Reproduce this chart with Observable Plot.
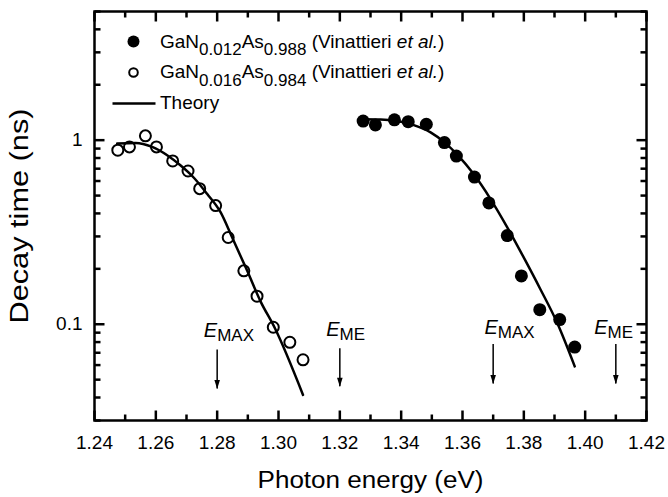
<!DOCTYPE html>
<html>
<head>
<meta charset="utf-8">
<script src="https://cdn.jsdelivr.net/npm/d3@7"></script>
<script src="https://cdn.jsdelivr.net/npm/@observablehq/plot@0.6"></script>
<style>
  html, body { margin: 0; padding: 0; background: #fff; overflow: hidden; }
  #chart svg { display: block; }
</style>
</head>
<body>
<div id="chart"></div>
<script>
// ---------- data ----------
// GaN0.012As0.988 (filled circles)
const filledEnergy = [1.3276, 1.3316, 1.3378, 1.3423, 1.3482, 1.3541, 1.3580, 1.3639, 1.3686, 1.3746, 1.3792, 1.3852, 1.3917, 1.3966];
const filledTau    = [1.27, 1.21, 1.29, 1.26, 1.22, 0.97, 0.82, 0.63, 0.456, 0.303, 0.183, 0.120, 0.106, 0.0752];
// GaN0.016As0.984 (open circles)
const openEnergy = [1.2476, 1.2514, 1.2566, 1.2602, 1.2655, 1.2705, 1.2743, 1.2795, 1.2836, 1.2887, 1.2930, 1.2983, 1.3037, 1.3080];
const openTau    = [0.882, 0.919, 1.056, 0.919, 0.771, 0.680, 0.545, 0.441, 0.296, 0.195, 0.142, 0.0963, 0.0798, 0.0641];
// Theory curves
const theoryLowEnergy  = [1.2474, 1.2534, 1.2588, 1.2637, 1.2680, 1.2724, 1.2767, 1.2811, 1.2849, 1.2898, 1.2941, 1.2988, 1.3080];
const theoryLowTau     = [0.959, 0.966, 0.919, 0.828, 0.730, 0.625, 0.511, 0.406, 0.296, 0.195, 0.1336, 0.0954, 0.0413];
const theoryHighEnergy = [1.3273, 1.3333, 1.3387, 1.3441, 1.3496, 1.3539, 1.3583, 1.3637, 1.3691, 1.3746, 1.3800, 1.3854, 1.3909, 1.3966];
const theoryHighTau    = [1.30, 1.297, 1.270, 1.208, 1.102, 0.979, 0.835, 0.652, 0.480, 0.336, 0.230, 0.155, 0.1016, 0.059];
// Arrow annotations
const arrowEnergy    = [1.28, 1.32, 1.37, 1.41];
const arrowTop       = [0.073, 0.074, 0.078, 0.078];
const arrowBottom    = [0.0447, 0.046, 0.0476, 0.0476];
const arrowMain      = ["E", "E", "E", "E"];
const arrowSub       = ["MAX", "ME", "MAX", "ME"];
const arrowLabelE    = [1.2758, 1.3157, 1.3673, 1.4031];
const arrowLabelTau  = [0.0845, 0.0860, 0.0885, 0.0885];
// Axes
const xDomain = [1.24, 1.42];
const yDomain = [0.03, 5];
const xMajor = [1.24, 1.26, 1.28, 1.30, 1.32, 1.34, 1.36, 1.38, 1.40, 1.42];
const xTickLabels = ["1.24", "1.26", "1.28", "1.30", "1.32", "1.34", "1.36", "1.38", "1.40", "1.42"];
const xMinor = [1.25, 1.27, 1.29, 1.31, 1.33, 1.35, 1.37, 1.39, 1.41];
const yMajor = [0.1, 1];
const yTickLabels = ["0.1", "1"];
const yMinor = [0.03, 0.04, 0.05, 0.06, 0.07, 0.08, 0.09, 0.2, 0.3, 0.4, 0.5, 0.6, 0.7, 0.8, 0.9, 2, 3, 4, 5];
const xTitle = "Photon energy (eV)";
const yTitle = "Decay time (ns)";
// Legend
const legendFilled = [["GaN", ""], ["0.012", "sub"], ["As", ""], ["0.988", "sub"], [" (Vinattieri ", ""], ["et al.", "it"], [")", ""]];
const legendOpen   = [["GaN", ""], ["0.016", "sub"], ["As", ""], ["0.984", "sub"], [" (Vinattieri ", ""], ["et al.", "it"], [")", ""]];
const legendTheory = "Theory";

// ---------- build ----------
const FONT = "'Liberation Sans', Arial, Helvetica, sans-serif";
const W = 668, H = 497, mL = 94, mT = 11, mR = 22, mB = 77;

const filled = filledEnergy.map((e, i) => ({e, tau: filledTau[i]}));
const open = openEnergy.map((e, i) => ({e, tau: openTau[i]}));
const theoryLow = theoryLowEnergy.map((e, i) => ({e, tau: theoryLowTau[i]}));
const theoryHigh = theoryHighEnergy.map((e, i) => ({e, tau: theoryHighTau[i]}));
const arrows = arrowEnergy.map((e, i) => ({e, top: arrowTop[i], bottom: arrowBottom[i]}));

// the same scales as the plot, used to give the inward ticks a fixed pixel length
const xS = Plot.scale({x: {domain: xDomain, range: [mL, W - mR]}});
const yS = Plot.scale({y: {type: "log", domain: yDomain, range: [H - mB, mT]}});
const xTicks = (vals, len) => [
  ...vals.map(v => ({x: v, y1: yDomain[0], y2: yS.invert(H - mB - len)})),
  ...vals.map(v => ({x: v, y1: yDomain[1], y2: yS.invert(mT + len)}))
];
const yTicks = (vals, len) => [
  ...vals.map(v => ({y: v, x1: xDomain[0], x2: xS.invert(mL + len)})),
  ...vals.map(v => ({y: v, x1: xDomain[1], x2: xS.invert(W - mR - len)}))
];

const arrowHead = {
  draw(context) {
    context.moveTo(0, 0.5);
    context.lineTo(-2.8, -8.5);
    context.lineTo(2.8, -8.5);
    context.closePath();
  }
};
const legendLine = {
  draw(context) {
    context.moveTo(-21.5, 0);
    context.lineTo(21.5, 0);
  }
};
const tickStyle = {stroke: "#000", strokeWidth: 2.5};

const plot = Plot.plot({
  width: W, height: H,
  marginLeft: mL, marginTop: mT, marginRight: mR, marginBottom: mB,
  style: {fontFamily: FONT, color: "#000", background: "#fff"},
  x: {domain: xDomain},
  y: {type: "log", domain: yDomain},
  marks: [
    Plot.frame({fill: "none", stroke: "#000", strokeWidth: 2.5}),
    // tick labels
    Plot.axisX(xMajor, {tickSize: 0, tickPadding: 15, fontSize: 19, label: null,
      tickFormat: d => xTickLabels[xMajor.indexOf(d)]}),
    Plot.axisY(yMajor, {tickSize: 0, tickPadding: 12, fontSize: 19, label: null,
      tickFormat: d => yTickLabels[yMajor.indexOf(d)]}),
    // inward ticks on all four sides
    Plot.link(xTicks(xMajor, 10), {x1: "x", x2: "x", y1: "y1", y2: "y2", ...tickStyle}),
    Plot.link(xTicks(xMinor, 6), {x1: "x", x2: "x", y1: "y1", y2: "y2", ...tickStyle}),
    Plot.link(yTicks(yMajor, 10), {y1: "y", y2: "y", x1: "x1", x2: "x2", ...tickStyle}),
    Plot.link(yTicks(yMinor, 6), {y1: "y", y2: "y", x1: "x1", x2: "x2", ...tickStyle}),
    // theory lines
    Plot.line(theoryLow, {x: "e", y: "tau", stroke: "#000", strokeWidth: 2.5, curve: "monotone-x"}),
    Plot.line(theoryHigh, {x: "e", y: "tau", stroke: "#000", strokeWidth: 2.5, curve: "monotone-x"}),
    // data points
    Plot.dot(open, {x: "e", y: "tau", r: 5.5, stroke: "#000", strokeWidth: 2, fill: "none"}),
    Plot.dot(filled, {x: "e", y: "tau", r: 6.5, fill: "#000", stroke: "none"}),
    // arrows
    Plot.link(arrows, {x1: "e", x2: "e", y1: "top", y2: "bottom", stroke: "#000", strokeWidth: 1.5}),
    Plot.dot(arrows, {x: "e", y: "bottom", symbol: arrowHead, r: 4, fill: "#000", stroke: "none"}),
    // legend symbols
    Plot.dot([0], {frameAnchor: "top-left", dx: 39, dy: 30, r: 6, fill: "#000", stroke: "none"}),
    Plot.dot([0], {frameAnchor: "top-left", dx: 39, dy: 61, r: 4.3, fill: "none", stroke: "#000", strokeWidth: 2}),
    Plot.dot([0], {frameAnchor: "top-left", dx: 39.5, dy: 92, symbol: legendLine, r: 10, fill: "none", stroke: "#000", strokeWidth: 2.5}),
    // axis titles
    Plot.text([xTitle], {text: d => d, frameAnchor: "bottom", dy: 60, fontSize: 23, lineAnchor: "middle", fill: "#000"}),
    Plot.text([yTitle], {text: d => d, frameAnchor: "left", dx: -75, dy: 107.5, rotate: -90, textAnchor: "start", fontSize: 25, lineAnchor: "middle", fill: "#000"})
  ]
});

const svg = d3.select(plot);
// stretch the titles to the widths in the figure
svg.selectAll("text").filter(function() { return this.textContent === xTitle; })
  .attr("textLength", 226).attr("lengthAdjust", "spacingAndGlyphs");
svg.selectAll("text").filter(function() { return this.textContent === yTitle; })
  .attr("textLength", 215).attr("lengthAdjust", "spacingAndGlyphs");

// legend labels with subscripts
function richLabel(x, y, parts, size, subSize, shift) {
  const t = svg.append("text").attr("x", x).attr("y", y)
    .attr("text-anchor", "start")
    .attr("font-family", FONT).attr("font-size", size).attr("fill", "#000")
    .style("white-space", "pre");
  let down = 0;
  parts.forEach(([str, kind]) => {
    const s = t.append("tspan").text(str);
    if (kind === "sub") {
      s.attr("font-size", subSize).attr("dy", shift - down);
      down = shift;
    } else {
      if (down) s.attr("dy", -down);
      down = 0;
      if (kind === "it") s.attr("font-style", "italic");
    }
  });
  return t;
}
richLabel(160, 47.5, legendFilled, 19, 17, 7.5);
richLabel(160, 78, legendOpen, 19, 17, 7.5);
richLabel(160, 108.5, [[legendTheory, ""]], 19, 17, 0);

// E labels positioned with the plot's scales
const xs = plot.scale("x"), ys = plot.scale("y");
arrowMain.forEach((m, i) => {
  const t = svg.append("text")
    .attr("x", xs.apply(arrowLabelE[i]))
    .attr("y", ys.apply(arrowLabelTau[i]))
    .attr("text-anchor", "start")
    .attr("font-family", FONT).attr("font-size", 20).attr("fill", "#000");
  t.append("tspan").attr("font-style", "italic").text(m);
  t.append("tspan").attr("font-size", 17).attr("dy", 4).text(arrowSub[i]);
});

document.getElementById("chart").appendChild(plot);
</script>
</body>
</html>
